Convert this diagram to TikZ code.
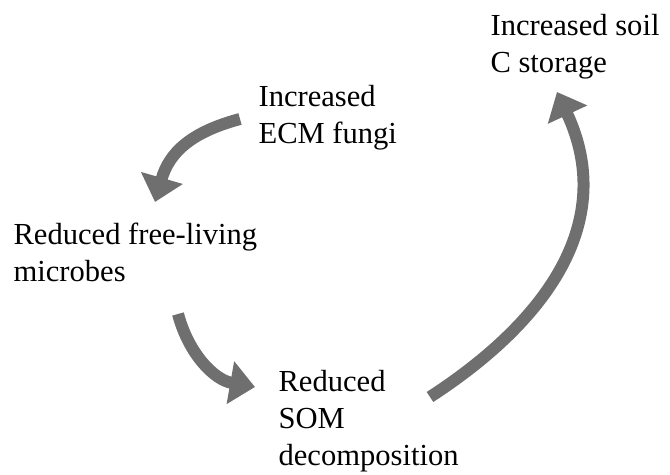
\documentclass[tikz,border=0pt]{standalone}
\usepackage{fontspec}
\setmainfont{Liberation Serif}
\usetikzlibrary{arrows.meta}
\definecolor{arrowgray}{RGB}{112,111,111}

\begin{document}
\begin{tikzpicture}[x=0.35pt, y=0.35pt]
    \tikzstyle{label_style} = [anchor=base west, align=left, inner sep=0pt,
      font=\fontsize{10.7}{13.1}\selectfont]
    \tikzstyle{cycle_arrow} = [-{Triangle[length=8.75pt, width=14.7pt]},
      line width=4.2pt, arrowgray]

    \useasboundingbox (0,0) rectangle (670,475);

    % labels (base = last line)
    \node[label_style] (soil) at (490,402) {Increased soil\\C storage};
    \node[label_style] (ecm) at (258,331) {Increased\\ECM fungi};
    \node[label_style] (microbes) at (13,193) {Reduced free-living\\microbes};
    \node[label_style] (som) at (278,9) {Reduced\\SOM\\decomposition};

    % arrow ends
    \coordinate (ecm_out) at (240,356);
    \coordinate (microbes_in) at (155,273);
    \coordinate (microbes_out) at (178,161);
    \coordinate (som_in) at (255,88);
    \coordinate (som_out) at (430,78);
    \coordinate (soil_in) at (557,383);

    \draw[cycle_arrow] (ecm_out) to[out=195, in=74, looseness=1.1] (microbes_in);
    \draw[cycle_arrow] (microbes_out) to[out=-75, in=170] (som_in);
    \draw[cycle_arrow] (som_out) to[out=33, in=-65, looseness=1.1] (soil_in);
\end{tikzpicture}
\end{document}
